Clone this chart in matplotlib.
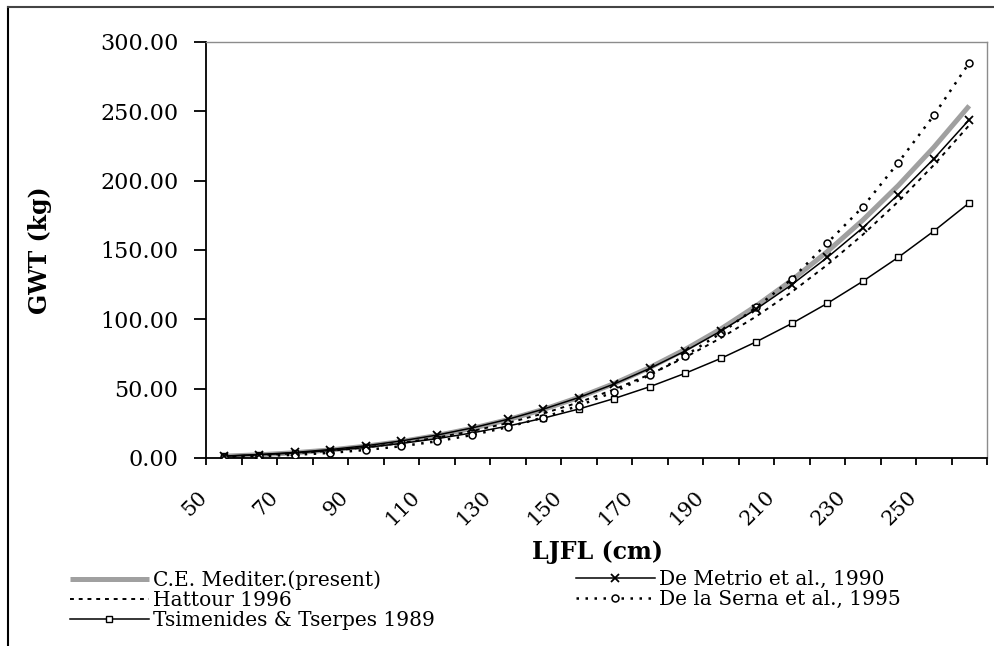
"""
Length-weight curves (GWT vs LJFL) for bluefin tuna, five studies compared
"""

import matplotlib.pyplot as plt
from matplotlib.lines import Line2D
from matplotlib.transforms import ScaledTranslation

# LJFL classes (cm) - Excel-style category axis
ljfl = [50, 60, 70, 80, 90, 100, 110, 120, 130, 140, 150,
        160, 170, 180, 190, 200, 210, 220, 230, 240, 250, 260]

# GWT (kg)
ce_mediter = [1.3, 2.3, 3.8, 5.8, 8.5, 11.9, 16.2, 21.4, 27.6, 35.0, 43.7,
              53.7, 65.2, 78.3, 93.0, 109.7, 128.2, 148.8, 171.5, 196.5, 224.0, 254.0]
de_metrio = [1.4, 2.5, 4.0, 6.1, 8.8, 12.3, 16.5, 21.7, 27.9, 35.2, 43.6,
             53.4, 64.6, 77.2, 91.5, 107.4, 125.0, 144.6, 166.0, 190.0, 215.7, 244.0]
hattour = [1.1, 2.0, 3.4, 5.2, 7.6, 10.8, 14.7, 19.4, 25.2, 32.1, 40.1,
           49.5, 60.3, 72.6, 86.5, 102.1, 119.7, 139.3, 161.0, 184.9, 211.2, 240.0]
de_la_serna = [0.7, 1.3, 2.3, 3.7, 5.8, 8.5, 12.0, 16.6, 22.3, 29.2, 37.7,
               47.8, 59.8, 73.8, 90.0, 108.6, 129.0, 155.0, 181.0, 213.0, 247.0, 285.0]
tsimenides = [1.3, 2.3, 3.6, 5.4, 7.6, 10.5, 13.9, 18.1, 23.0, 28.7, 35.3,
              42.9, 51.4, 61.1, 71.8, 83.8, 97.0, 111.5, 127.4, 144.7, 163.6, 184.0]

yticks = [0, 50, 100, 150, 200, 250, 300]

plt.rcParams['font.family'] = 'DejaVu Serif'

W, H = 994, 646
fig = plt.figure(figsize=(W / 100, H / 100), dpi=100)

# outer frame (left and top edges visible)
fig.add_artist(Line2D([8 / W, 8 / W], [0, 1 - 7 / H], transform=fig.transFigure,
                      color='black', lw=1.5))
fig.add_artist(Line2D([8 / W, 1], [1 - 7 / H, 1 - 7 / H], transform=fig.transFigure,
                      color='#444444', lw=1.5))

ax = fig.add_axes([206 / W, 1 - 458 / H, 781 / W, 416 / H])
x = list(range(len(ljfl)))

ax.plot(x, ce_mediter, color='#a0a0a0', lw=3.6, solid_capstyle='butt',
        label='C.E. Mediter.(present)', zorder=2)
ax.plot(x, hattour, color='black', lw=1.4, linestyle=(0, (2, 2.5)),
        label='Hattour 1996', zorder=3)
ax.plot(x, tsimenides, color='black', lw=1.1, marker='s', ms=5,
        mfc='white', mec='black', mew=1.0,
        label='Tsimenides & Tserpes 1989', zorder=3)
ax.plot(x, de_metrio, color='black', lw=1.1, marker='x', ms=6, mew=1.3,
        label='De Metrio et al., 1990', zorder=4)
ax.plot(x, de_la_serna, color='black', lw=1.8, linestyle=(0, (1, 2.6)),
        marker='o', ms=5, mfc='white', mec='black', mew=1.1,
        label='De la Serna et al., 1995', zorder=3)

ax.set_xlim(-0.5, len(ljfl) - 0.5)
ax.set_ylim(0, 300)

# category boundaries get the tick marks, every other category gets a label
ax.set_xticks([i - 0.5 for i in range(len(ljfl) + 1)])
ax.set_xticklabels([])
ax.set_xticks(x[::2], minor=True)
ax.set_xticklabels([str(v) for v in ljfl[::2]], minor=True, rotation=45,
                   ha='right', va='center', rotation_mode='anchor', fontsize=15)
ax.tick_params(axis='x', which='major', direction='out', length=5, width=1.3)
ax.tick_params(axis='x', which='minor', length=0, pad=26)
shift = ScaledTranslation(-20 / 100, 0, fig.dpi_scale_trans)
for lab in ax.get_xticklabels(minor=True):
    lab.set_transform(lab.get_transform() + shift)

ax.set_yticks(yticks)
ax.set_yticklabels(['%.2f' % v for v in yticks], fontsize=16)
ax.tick_params(axis='y', direction='out', length=9, width=1.3, pad=11)

for side in ['left', 'bottom']:
    ax.spines[side].set_linewidth(1.3)
for side in ['top', 'right']:
    ax.spines[side].set_color('#8c8c8c')
    ax.spines[side].set_linewidth(1.0)

fig.text(597 / W, 1 - 552 / H, 'LJFL (cm)', fontsize=17, fontweight='bold',
         ha='center', va='center')
fig.text(40 / W, 1 - 250 / H, 'GWT (kg)', rotation=90, fontsize=17,
         fontweight='bold', ha='center', va='center')

# legend in two free-standing columns, as laid out in the original
handles, labels = ax.get_legend_handles_labels()
leg_kw = dict(frameon=False, fontsize=14.5, handlelength=3.9, handletextpad=0.2,
              labelspacing=0.05, numpoints=1, borderpad=0, borderaxespad=0)
fig.legend(handles[:3], labels[:3], loc='upper left',
           bbox_to_anchor=(70 / W, 1 - 570 / H), **leg_kw)
fig.legend(handles[3:], labels[3:], loc='upper left',
           bbox_to_anchor=(576 / W, 1 - 570 / H), **leg_kw)

plt.savefig('out.png', dpi=100)
plt.close()
